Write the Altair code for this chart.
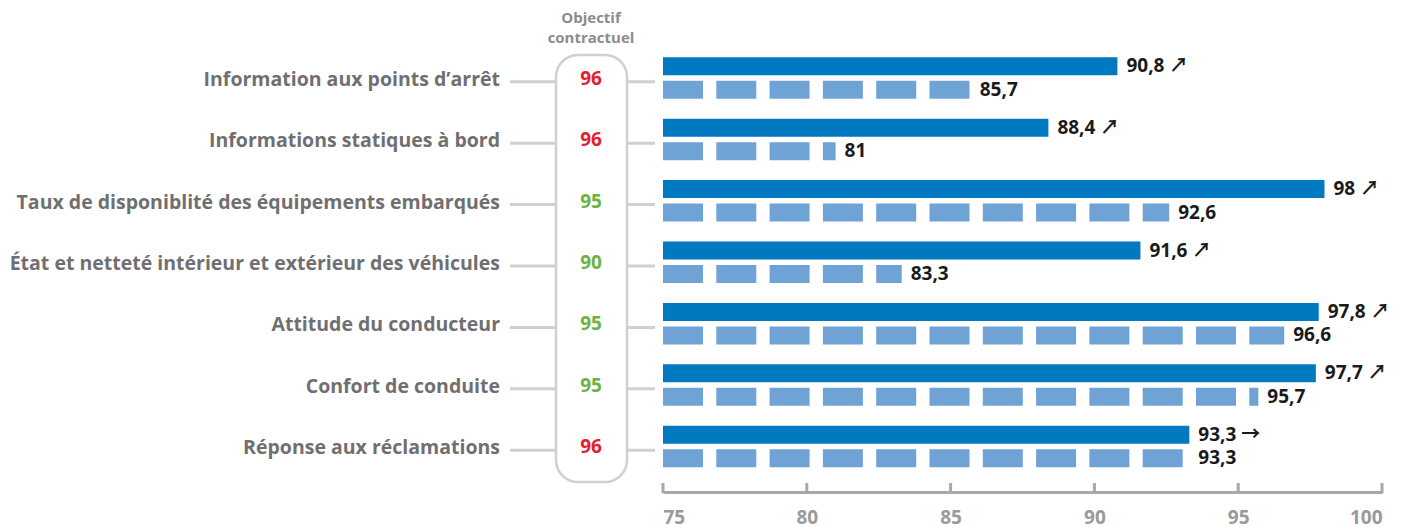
import altair as alt
import pandas as pd

categories = [
    "Information aux points d’arrêt",
    "Informations statiques à bord",
    "Taux de disponiblité des équipements embarqués",
    "État et netteté intérieur et extérieur des véhicules",
    "Attitude du conducteur",
    "Confort de conduite",
    "Réponse aux réclamations",
]
objectifs = [96, 96, 95, 90, 95, 95, 96]
current = [90.8, 88.4, 98, 91.6, 97.8, 97.7, 93.3]
previous = [85.7, 81, 92.6, 83.3, 96.6, 95.7, 93.3]
trends = ["↗", "↗", "↗", "↗", "↗", "↗", "→"]
ticks = [75, 80, 85, 90, 95, 100]
header = "Objectif\ncontractuel"

X_MIN, X_MAX = 75, 100
W, H = 719, 430
FONT = "Open Sans, DejaVu Sans"
VALUE_FONT = "Open Sans, Noto Sans CJK JP"


def fr(v):
    s = f"{v:.1f}"
    if s.endswith(".0"):
        s = s[:-2]
    return s.replace(".", ",")


df = pd.DataFrame({
    "cat": categories,
    "obj": objectifs,
    "cur": current,
    "prev": previous,
    "base": [X_MIN] * len(categories),
    "cur_label": [f"{fr(c)} {t}" for c, t in zip(current, trends)],
    "prev_label": [fr(p) for p in previous],
    "status": ["atteint" if c >= o else "non atteint" for c, o in zip(current, objectifs)],
})
tick_df = pd.DataFrame({"t": ticks})
one = pd.DataFrame({"k": [header]})

xscale = alt.Scale(domain=[X_MIN, X_MAX], nice=False, zero=False)
xaxis = alt.Axis(values=ticks, grid=False, ticks=False, domainColor="#a8a8a8",
                 domainWidth=3, labelColor="#9a9a9a", labelFontSize=19,
                 labelFontWeight="bold", labelFont=FONT, offset=11,
                 labelPadding=16, title=None, format="d")
Y = alt.Y("cat:N", sort=categories, axis=None,
          scale=alt.Scale(paddingInner=0, paddingOuter=0))

base = alt.Chart(df)

connectors = base.mark_rule(color="#d0d0d0", strokeWidth=3).encode(
    y=Y, x=alt.value(-153), x2=alt.value(-8))

box = alt.Chart(one).mark_rect(
    fill="white", stroke="#d0d0d0", strokeWidth=2.5, cornerRadius=22
).encode(x=alt.value(-107), x2=alt.value(-36), y=alt.value(4), y2=alt.value(431))

head = alt.Chart(one).mark_text(
    font=FONT, fontSize=15, fontWeight="bold", color="#8c8c8c",
    align="center", baseline="middle", lineBreak="\n", lineHeight=20
).encode(x=alt.value(-72), y=alt.value(-33), text="k:N")

left_labels = base.mark_text(
    font=FONT, fontSize=19.5, fontWeight="bold", color="#6f6f72",
    align="right", baseline="middle", dy=-2
).encode(y=Y, x=alt.value(-163), text="cat:N")

obj_text = base.mark_text(
    font=FONT, fontSize=19, fontWeight="bold", align="center", baseline="middle", dy=-3
).encode(
    y=Y, x=alt.value(-72), text="obj:Q",
    color=alt.Color("status:N", legend=None,
                    scale=alt.Scale(domain=["non atteint", "atteint"],
                                    range=["#e3202c", "#6db33f"])))

solid = base.mark_rule(color="#0079c1", strokeWidth=18, strokeCap="butt", yOffset=-15.5).encode(
    y=Y, x=alt.X("base:Q", scale=xscale, axis=xaxis), x2="cur:Q")

dashed = base.mark_rule(color="#6fa3d6", strokeWidth=18, strokeCap="butt",
                        strokeDash=[40, 13.3], yOffset=8).encode(
    y=Y, x=alt.X("base:Q", scale=xscale, axis=xaxis), x2="prev:Q")

cur_text = base.mark_text(
    font=VALUE_FONT, fontSize=19, fontWeight="bold", color="#1a1a1a",
    align="left", baseline="middle", dx=9, yOffset=-15.5
).encode(y=Y, x=alt.X("cur:Q", scale=xscale, axis=xaxis), text="cur_label:N")

prev_text = base.mark_text(
    font=VALUE_FONT, fontSize=19, fontWeight="bold", color="#1a1a1a",
    align="left", baseline="middle", dx=9, yOffset=8
).encode(y=Y, x=alt.X("prev:Q", scale=xscale, axis=xaxis), text="prev_label:N")

tick_marks = alt.Chart(tick_df).mark_rule(color="#a8a8a8", strokeWidth=3).encode(
    x=alt.X("t:Q", scale=xscale, axis=xaxis), y=alt.value(H + 2), y2=alt.value(H + 12))

chart = alt.layer(
    connectors, box, head, left_labels, obj_text, solid, dashed, cur_text, prev_text, tick_marks
).properties(
    width=W, height=H,
    background="white",
    autosize=alt.AutoSizeParams(type="none"),
    padding={"left": 655, "top": 43, "right": 24, "bottom": 50},
).configure_view(stroke=None)

chart.save("out.html", embed_options={"renderer": "svg", "actions": False})
